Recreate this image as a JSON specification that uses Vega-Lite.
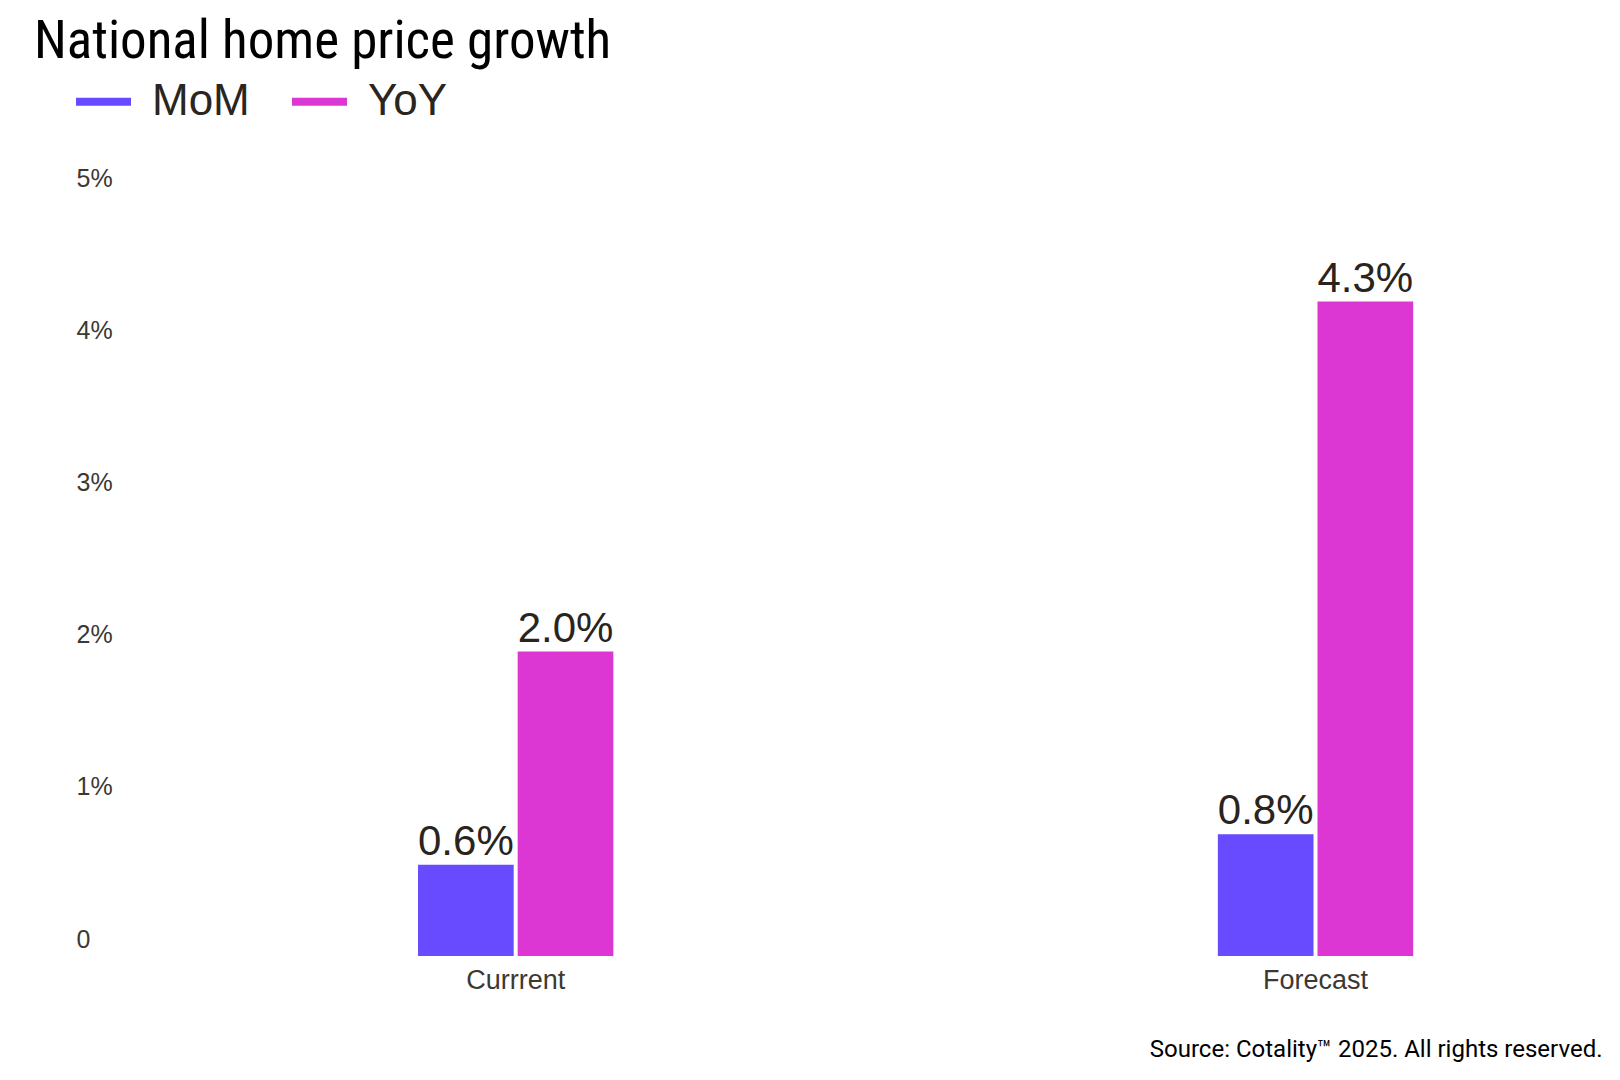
{
  "$schema": "https://vega.github.io/schema/vega-lite/v6.json",
  "autosize": {"type": "none"},
  "padding": {"left": 130, "top": 195, "right": 18, "bottom": 124},
  "width": 1472,
  "height": 761,
  "background": "white",
  "title": {
    "text": "National home price growth",
    "anchor": "start",
    "frame": "group",
    "font": "Liberation Sans Narrow, Roboto Condensed, Roboto",
    "fontSize": 53,
    "fontWeight": "normal",
    "color": "#000000",
    "dx": -96,
    "offset": 5
  },
  "data": {
    "values": [
      {"period": "Currrent", "series": "MoM", "value": 0.006},
      {"period": "Currrent", "series": "YoY", "value": 0.02},
      {"period": "Forecast", "series": "MoM", "value": 0.008},
      {"period": "Forecast", "series": "YoY", "value": 0.043}
    ]
  },
  "encoding": {
    "x": {
      "field": "period",
      "type": "nominal",
      "sort": null,
      "scale": {"paddingInner": 0.7558, "paddingOuter": 0.2981, "align": 0.604},
      "axis": {
        "title": "Source: Cotality™ 2025. All rights reserved.",
        "titleAnchor": "end",
        "titleFont": "Roboto",
        "titleFontSize": 24,
        "titleFontWeight": "normal",
        "titleColor": "#000000",
        "titlePadding": 44,
        "labelAngle": 0,
        "labelFont": "Liberation Sans",
        "labelFontSize": 27,
        "labelColor": "#3d3832",
        "labelPadding": 11,
        "domain": false,
        "ticks": false
      }
    },
    "xOffset": {
      "field": "series",
      "type": "nominal",
      "sort": ["MoM", "YoY"],
      "scale": {"paddingInner": 0.04, "paddingOuter": 0}
    },
    "y": {
      "field": "value",
      "type": "quantitative",
      "scale": {"domain": [0, 0.05], "nice": false},
      "axis": {
        "title": null,
        "values": [0, 0.01, 0.02, 0.03, 0.04, 0.05],
        "format": ".0%",
        "labelExpr": "datum.value == 0 ? '0' : datum.label",
        "grid": false,
        "domain": false,
        "ticks": false,
        "labelAlign": "left",
        "labelPadding": 54,
        "labelBaseline": "middle",
        "labelOffset": -17,
        "labelFont": "Liberation Sans",
        "labelFontSize": 25,
        "labelColor": "#3d3832"
      }
    }
  },
  "layer": [
    {
      "mark": {"type": "bar"},
      "encoding": {
        "color": {
          "field": "series",
          "type": "nominal",
          "scale": {"domain": ["MoM", "YoY"], "range": ["#684aff", "#dc37d2"]},
          "legend": {
            "orient": "none",
            "legendX": -54,
            "legendY": -121,
            "direction": "horizontal",
            "title": null,
            "symbolType": "M-1,-0.145H1V0.145H-1Z",
            "symbolSize": 3025,
            "symbolStrokeWidth": 0,
            "labelFontSize": 44,
            "labelFont": "Liberation Sans",
            "labelColor": "#2b2520",
            "columnPadding": 42,
            "labelOffset": 21
          }
        }
      }
    },
    {
      "mark": {
        "type": "text",
        "baseline": "alphabetic",
        "dy": -10,
        "font": "Liberation Sans",
        "fontSize": 42,
        "color": "#2a241c"
      },
      "encoding": {
        "text": {"field": "value", "type": "quantitative", "format": ".1%"}
      }
    }
  ],
  "config": {
    "view": {"stroke": null}
  }
}
